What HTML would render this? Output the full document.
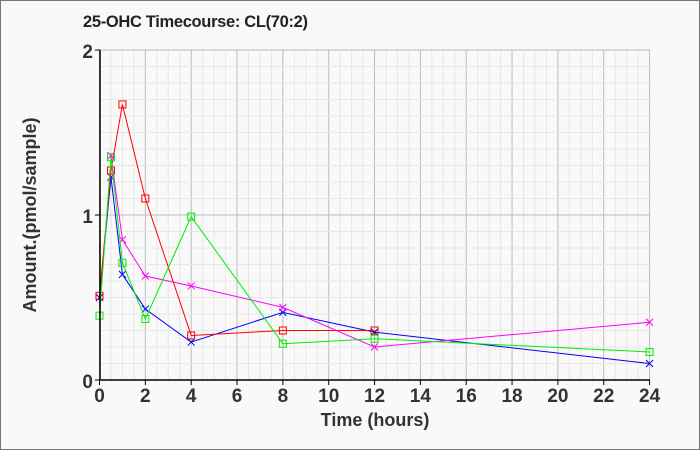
<!DOCTYPE html><html><head><style>body{margin:0;background:#f9f9f9}svg{display:block}</style></head><body>
<svg id="s" width="700" height="450" xmlns="http://www.w3.org/2000/svg" font-family="Liberation Sans, Arial, sans-serif">
<rect x="0.5" y="0.5" width="699" height="449" fill="#f9f9f9" stroke="#777"/>
<text x="83" y="27" font-size="16.5" font-weight="bold" fill="#222" textLength="225">25-OHC Timecourse: CL(70:2)</text>
<g id="g"></g>
<line x1="100" y1="50" x2="100" y2="380" stroke="#000" stroke-width="1.5"/>
<line x1="100" y1="380" x2="650" y2="380" stroke="#000" stroke-width="1.5"/>
<g font-size="19" font-weight="bold" fill="#333" text-anchor="end">
<text x="93" y="58">2</text><text x="93" y="223">1</text><text x="93" y="388">0</text></g>
<text x="375" y="426" font-size="18" font-weight="bold" fill="#333" text-anchor="middle">Time (hours)</text>
<text transform="translate(36,215) rotate(-90)" font-size="18" font-weight="bold" fill="#333" text-anchor="middle">Amount.(pmol/sample)</text>
</svg>
<script>
const g=document.getElementById('g');const N='http://www.w3.org/2000/svg';
const X=t=>99.5+t*22.92, Y=v=>380-v*165;
function el(n,a){const e=document.createElementNS(N,n);for(const k in a)e.setAttribute(k,a[k]);g.appendChild(e);return e;}
for(let t=0;t<=24;t+=0.5){el('line',{x1:X(t),y1:50,x2:X(t),y2:380,stroke:t%2==0?'#bbb':'#e6e6e6'});}
for(let v=0;v<=2.001;v+=0.1){const m=Math.abs(v-Math.round(v))<0.01;el('line',{x1:100,y1:Y(v),x2:650,y2:Y(v),stroke:m?'#bbb':'#e6e6e6'});}
for(let t=0;t<=24;t+=2){el('line',{x1:X(t),y1:380,x2:X(t),y2:385,stroke:'#000'});const tx=el('text',{x:X(t),y:402,'font-size':19,'font-weight':'bold',fill:'#333','text-anchor':'middle'});tx.textContent=t;}
for(const v of [0,1,2])el('line',{x1:95,y1:Y(v),x2:100,y2:Y(v),stroke:'#000'});
const S=[
['#00f','x',[[0,0.5],[0.5,1.23],[1,0.64],[2,0.43],[4,0.23],[8,0.41],[12,0.29],[24,0.10]]],
['#f00','s',[[0,0.51],[0.5,1.27],[1,1.67],[2,1.10],[4,0.27],[8,0.30],[12,0.30]]],
['#f0f','x',[[0.5,1.36],[1,0.85],[2,0.63],[4,0.57],[8,0.44],[12,0.20],[24,0.35]]],
['#0e0','s',[[0,0.39],[0.5,1.35],[1,0.71],[2,0.37],[4,0.99],[8,0.22],[12,0.25],[24,0.17]]]];
for(const [c,m,d] of S){el('polyline',{points:d.map(p=>X(p[0])+','+Y(p[1])).join(' '),fill:'none',stroke:c,'stroke-width':1});
for(const p of d){const x=X(p[0]),y=Y(p[1]);if(m=='s')el('rect',{x:x-3.5,y:y-3.5,width:7,height:7,fill:'none',stroke:c});
else el('path',{d:`M${x-3.5} ${y-3.5}L${x+3.5} ${y+3.5}M${x-3.5} ${y+3.5}L${x+3.5} ${y-3.5}`,stroke:c});}}
</script></body></html>
